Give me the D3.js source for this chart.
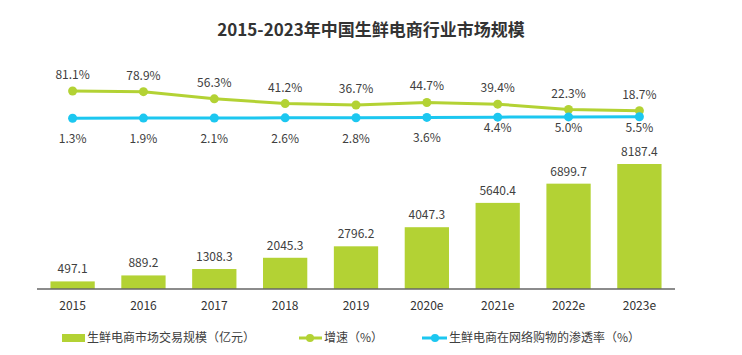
<!DOCTYPE html>
<html><head><meta charset="utf-8">
<script src="https://cdn.jsdelivr.net/npm/d3@7/dist/d3.min.js"></script>
<style>body{margin:0;background:#fff}svg{display:block}</style>
</head><body>
<svg id="c" width="742" height="355"></svg>
<script>
const years = ["2015","2016","2017","2018","2019","2020e","2021e","2022e","2023e"];
const marketSize = [497.1, 889.2, 1308.3, 2045.3, 2796.2, 4047.3, 5640.4, 6899.7, 8187.4];
const growthRate = [81.1, 78.9, 56.3, 41.2, 36.7, 44.7, 39.4, 22.3, 18.7];
const penetration = [1.3, 1.9, 2.1, 2.6, 2.8, 3.6, 4.4, 5.0, 5.5];
const legendLabels = ["生鲜电商市场交易规模（亿元）", "增速（%）", "生鲜电商在网络购物的渗透率（%）"];
const title = "2015-2023年中国生鲜电商行业市场规模";

const svg = d3.select("#c");
const font = "'Noto Sans CJK SC','Open Sans',sans-serif";
const green = "#b3d234", blue = "#1cc7f0", txt = "#404040";

svg.append("text").attr("x", 371).attr("y", 36).attr("text-anchor", "middle")
  .attr("font-family", font).attr("font-weight", "bold").attr("font-size", 17)
  .attr("fill", "#333").text(title);

const x = d3.scaleBand().domain(years).range([37, 675]).paddingInner(0.375).paddingOuter(0.19);
const yBar = d3.scaleLinear().domain([0, 8187.4]).range([289, 164]);
const yG = d3.scaleLinear().domain([0, 100]).range([116.6, 85]);
const yP = d3.scaleLinear().domain([0, 10]).range([118.8, 115]);

// bars
svg.append("g").selectAll("rect").data(marketSize).join("rect")
  .attr("x", (d, i) => x(years[i])).attr("width", x.bandwidth())
  .attr("y", d => yBar(d)).attr("height", d => yBar(0) - yBar(d)).attr("fill", green);
svg.append("g").selectAll("text").data(marketSize).join("text")
  .attr("x", (d, i) => x(years[i]) + x.bandwidth() / 2).attr("y", d => yBar(d) - 8)
  .attr("text-anchor", "middle").attr("font-family", font).attr("font-size", 12)
  .attr("fill", txt).text(d => d.toFixed(1));

// axis
const ax = svg.append("g").attr("transform", "translate(0,289)")
  .call(d3.axisBottom(x).tickSize(0).tickPadding(12));
ax.select(".domain").attr("stroke", "#666").attr("stroke-width", 1.5).attr("d", "M37,0H675");
ax.selectAll("text").attr("font-family", font).attr("font-size", 12).attr("fill", "#333");

const cx = i => x(years[i]) + x.bandwidth() / 2;

// growth line
svg.append("path").datum(growthRate)
  .attr("d", d3.line().x((d, i) => cx(i)).y(d => yG(d)))
  .attr("fill", "none").attr("stroke", green).attr("stroke-width", 3);
svg.append("g").selectAll("circle").data(growthRate).join("circle")
  .attr("cx", (d, i) => cx(i)).attr("cy", d => yG(d)).attr("r", 4.5).attr("fill", green);
svg.append("g").selectAll("text").data(growthRate).join("text")
  .attr("x", (d, i) => cx(i)).attr("y", d => yG(d) - 12)
  .attr("text-anchor", "middle").attr("font-family", font).attr("font-size", 12)
  .attr("fill", txt).text(d => d.toFixed(1) + "%");

// penetration line
svg.append("path").datum(penetration)
  .attr("d", d3.line().x((d, i) => cx(i)).y(d => yP(d)))
  .attr("fill", "none").attr("stroke", blue).attr("stroke-width", 3);
svg.append("g").selectAll("circle").data(penetration).join("circle")
  .attr("cx", (d, i) => cx(i)).attr("cy", d => yP(d)).attr("r", 4.5).attr("fill", blue);
svg.append("g").selectAll("text").data(penetration).join("text")
  .attr("x", (d, i) => cx(i)).attr("y", (d, i) => yP(d) + (i >= 6 ? 15 : 25))
  .attr("text-anchor", "middle").attr("font-family", font).attr("font-size", 12)
  .attr("fill", txt).text(d => d.toFixed(1) + "%");

// legend
const lg = svg.append("g").attr("font-family", font).attr("font-size", 12).attr("fill", txt);
lg.append("rect").attr("x", 62).attr("y", 334).attr("width", 23).attr("height", 8).attr("fill", green);
lg.append("text").attr("x", 87).attr("y", 342).text(legendLabels[0]);
lg.append("line").attr("x1", 299).attr("x2", 322).attr("y1", 338).attr("y2", 338).attr("stroke", green).attr("stroke-width", 3);
lg.append("circle").attr("cx", 310).attr("cy", 338).attr("r", 4).attr("fill", green);
lg.append("text").attr("x", 324).attr("y", 342).text(legendLabels[1]);
lg.append("line").attr("x1", 422).attr("x2", 447).attr("y1", 338).attr("y2", 338).attr("stroke", blue).attr("stroke-width", 3);
lg.append("circle").attr("cx", 435).attr("cy", 338).attr("r", 4).attr("fill", blue);
lg.append("text").attr("x", 449).attr("y", 342).text(legendLabels[2]);
</script>
</body></html>
